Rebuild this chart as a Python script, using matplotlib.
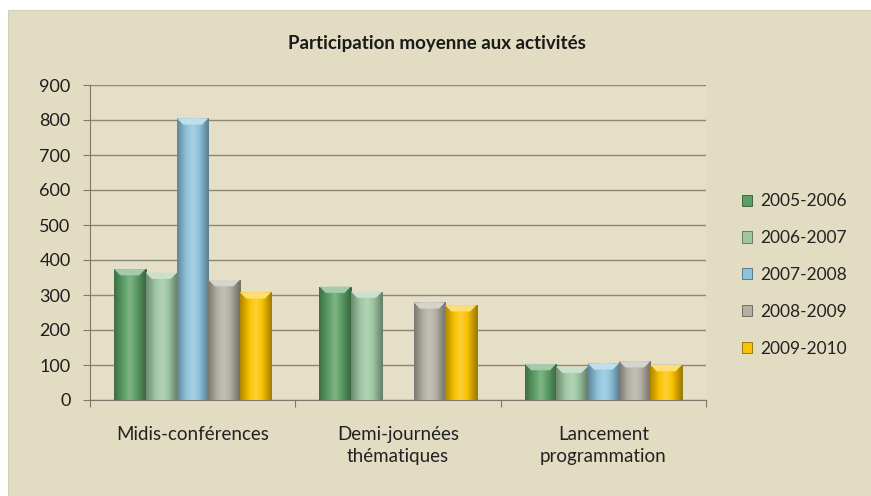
import numpy as np
import matplotlib.pyplot as plt
from matplotlib.patches import Rectangle
from matplotlib.colors import to_rgb

plt.rcParams['font.family'] = ['Lato', 'DejaVu Sans']

categories = ['Midis-conférences', 'Demi-journées\nthématiques', 'Lancement\nprogrammation']
seasons = ['2005-2006', '2006-2007', '2007-2008', '2008-2009', '2009-2010']
values = {
    '2005-2006': [374, 324, 103],
    '2006-2007': [364, 310, 95],
    '2007-2008': [805, 0, 105],
    '2008-2009': [343, 279, 111],
    '2009-2010': [308, 271, 100],
}
colors = ['#5c9f66', '#9ec7a2', '#8ec3dc', '#b3afa3', '#fbc300']
yticks = list(range(0, 1000, 100))

bg = '#e2dcc2'
fig = plt.figure(figsize=(8.71, 4.96), dpi=100)
fig.patch.set_facecolor('white')
# beige chart frame
fig.patches.append(Rectangle((8 / 871, 0), 1, 1 - 10 / 496, transform=fig.transFigure,
                             facecolor=bg, edgecolor='#d4cfb8', lw=0.8, zorder=-10))

ax = fig.add_axes([90 / 871, 1 - 400 / 496, 616 / 871, 315 / 496])
ax.set_facecolor('#e5dfc7')

x = np.arange(len(categories))
w = 0.153


def shade(c, f):
    r = np.array(to_rgb(c))
    if f >= 0:
        return r + (1 - r) * f
    return r * (1 + f)


for i, (s, c) in enumerate(zip(seasons, colors)):
    bars = ax.bar(x + (i - 2) * w, values[s], w, color=c, edgecolor=shade(c, -0.45),
                  linewidth=0.6, label=s, zorder=3)
    # bevel look: horizontal gradient clipped to each bar + light top cap
    grad = np.array([shade(c, f) for f in np.linspace(-0.3, 0.2, 12)] +
                    [shade(c, f) for f in np.linspace(0.2, -0.35, 12)])[None, :, :]
    for b in bars:
        h = b.get_height()
        if h <= 0:
            continue
        bx, bw = b.get_x(), b.get_width()
        im = ax.imshow(grad, extent=(bx, bx + bw, 0, h), aspect='auto',
                       interpolation='bicubic', zorder=3.5)
        im.set_clip_path(b)
        cap = min(18, h * 0.5)
        ax.fill([bx, bx + bw, bx + bw * 0.8, bx + bw * 0.2], [h, h, h - cap, h - cap],
                color=shade(c, 0.45), lw=0, zorder=3.6)

ax.set_xlim(-0.5, 2.5)
ax.set_ylim(0, 900)
ax.set_yticks(yticks)
ax.yaxis.grid(True, color='#8c8676', lw=1.0, zorder=1)
ax.set_axisbelow(True)
for side in ['top', 'right']:
    ax.spines[side].set_visible(False)
ax.spines['left'].set_color('#7d786a')
ax.spines['bottom'].set_color('#7d786a')

ax.set_xticks([-0.5, 0.5, 1.5, 2.5])
ax.set_xticklabels([])
ax.set_xticks(x, minor=True)
ax.set_xticklabels(categories, minor=True, fontsize=13.5, color='#222222', linespacing=1.35)
ax.tick_params(axis='x', which='minor', length=0, pad=19)
ax.tick_params(axis='x', which='major', length=5, color='#7d786a', direction='out')
ax.tick_params(axis='y', length=5, color='#7d786a', labelsize=13, labelcolor='#1e1e1e', pad=9)

fig.text(437 / 871, 1 - 44 / 496, 'Participation moyenne aux activités', ha='center',
         va='center', fontsize=13.5, fontweight='bold', color='#1a1a1a')

leg = ax.legend(loc='center left', bbox_to_anchor=(1.033, 0.397), frameon=False,
                fontsize=12.5, handlelength=0.6, handleheight=0.6, handletextpad=0.45,
                labelspacing=1.2)
for t in leg.get_texts():
    t.set_color('#222222')

fig.savefig('out.png', dpi=100, facecolor=fig.get_facecolor())
